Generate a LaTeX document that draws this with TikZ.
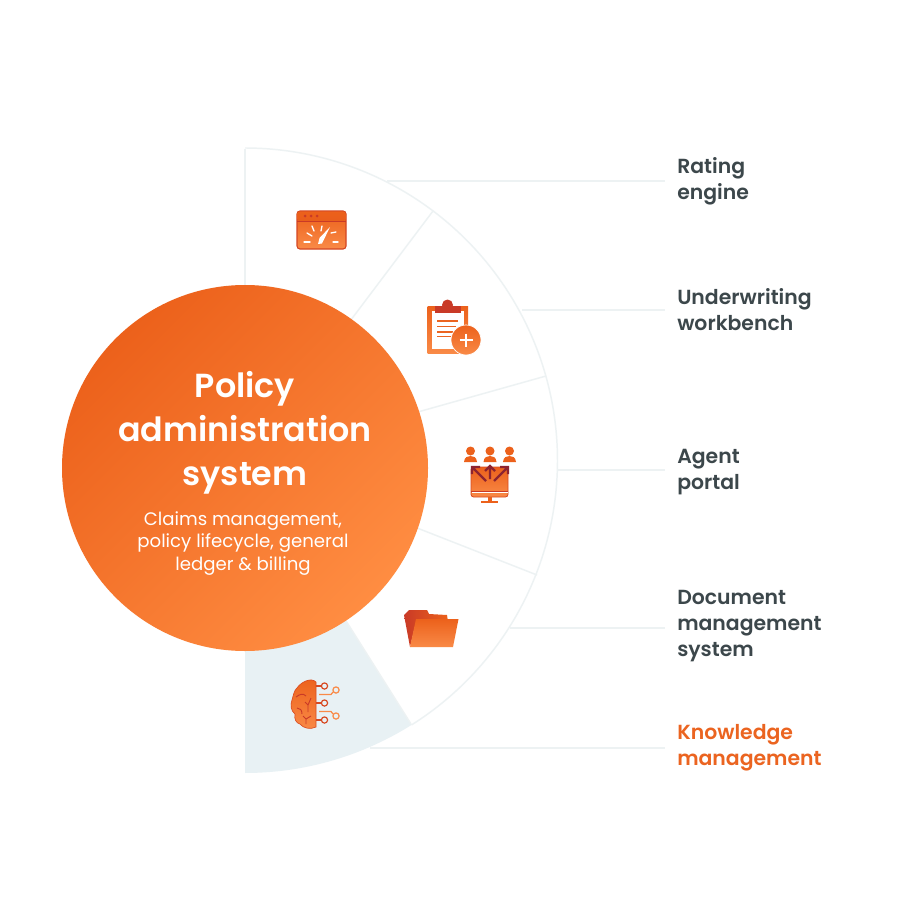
\documentclass[tikz,border=0pt]{standalone}
\usepackage{fontspec}
\setmainfont{Poppins}
\newfontfamily\labfont{Poppins SemiBold}
\newfontfamily\titlefont{Poppins SemiBold}
\usetikzlibrary{calc}
\definecolor{gridc}{HTML}{EDF2F3}
\definecolor{hl}{HTML}{E8F1F4}
\definecolor{ink}{HTML}{3C474B}
\definecolor{orgA}{HTML}{EC611B}
\definecolor{orgB}{HTML}{FF8D42}
\definecolor{orgT}{HTML}{EB6420}
\definecolor{redD}{HTML}{C93A27}
\definecolor{redE}{HTML}{8E2430}
\definecolor{lite}{HTML}{F98A47}
\tikzset{
  rule/.style={draw=gridc,line width=1.1pt},
  lab/.style={anchor=base west,align=left,inner sep=0pt,text=ink,font=\fontsize{15.3}{19.5}\selectfont\labfont},
  labo/.style={lab,text=orgT},
  wh/.style={draw=white,line width=1pt,line cap=round},
  cct/.style={draw=#1,line width=0.9pt,fill=none}
}
\begin{document}
\begin{tikzpicture}[x=0.75pt,y=-0.75pt]
\useasboundingbox (0,0) rectangle (920,920);
\fill[white] (0,0) rectangle (920,920);
\coordinate (o) at (245,460.5);
% highlighted sector
\fill[hl] (o) -- plot[domain=57.8:90,samples=30] ({245+312.5*cos(\x)},{460.5+312.5*sin(\x)}) -- cycle;
% arc
\draw[rule] plot[domain=-90:57.8,samples=150] ({245+312.5*cos(\x)},{460.5+312.5*sin(\x)});
% radial rules
\coordinate (t1) at (433,211); \coordinate (t2) at (546,376);
\coordinate (t3) at (537,575); \coordinate (t4) at (411,724);
\coordinate (top) at (245,149);
\draw[rule] (o) -- (top);
\draw[rule] (o) -- (t1);
\draw[rule] (o) -- (t2);
\draw[rule] (o) -- (t3);
\draw[rule] (o) -- (t4);
% labels
\node[lab] (l1) at (677,199.5) {Rating\\engine};
\node[lab] (l2) at (677,330.5) {Underwriting\\workbench};
\node[lab] (l3) at (677,489.5) {Agent\\portal};
\node[lab] (l4) at (677,656.5) {Document\\management\\system};
\node[labo] (l5) at (677,765.5) {Knowledge\\management};
% connectors
\coordinate (a1) at (387,181); \coordinate (b1) at (665,181);
\coordinate (a2) at (522,310); \coordinate (b2) at (665,310);
\coordinate (a3) at (558,470); \coordinate (b3) at (665,470);
\coordinate (a4) at (510,628); \coordinate (b4) at (665,628);
\coordinate (a5) at (370,748); \coordinate (b5) at (665,748);
\foreach \i in {1,...,5} \draw[rule] (a\i) -- (b\i);
% big circle
\node[circle,minimum size=274.5pt,inner sep=0pt,shading=axis,left color=orgA,right color=orgB,shading angle=45] (hub) at (245,468) {};
\node[anchor=base,align=center,inner sep=0pt,text=white,font=\fontsize{25}{33}\selectfont\titlefont] (title) at (245,485) {Policy\\administration\\system};
\node[anchor=base,align=center,inner sep=0pt,text=white,font=\fontsize{13.6}{16.9}\selectfont] (sub) at (243,570.5) {Claims management,\\policy lifecycle, general\\ledger \& billing};
% icon 1: gauge window
\shade[top color=orgA,bottom color=lite,draw=redD!70!orgA,line width=0.8pt,rounded corners=2.2pt] (297,211) rectangle (346,249);
\shade[top color=orgA,bottom color=orgA!90!redD,rounded corners=1.5pt] (297.5,211.5) rectangle (345.5,221);
\draw[redD,line width=1.2pt] (297,221.5) -- (346,221.5);
\foreach \x in {305,311,317} \fill[redD] (\x,216) circle (1.5);
\fill[white] (318,244) -- (322,243.5) -- (330,227) -- (319.5,238) -- cycle;
\foreach \a/\b/\c/\d in {304/242/310/242, 307/233/312/236, 312/226/314/231, 322/226/321/231, 331/233/336/232, 333/242/338/242}
  \draw[wh] (\a,\b) -- (\c,\d);
% icon 2: clipboard
\shade[top color=orgA,bottom color=lite] (427.5,306) rectangle (468,353.5);
\fill[white] (432,311) rectangle (463.5,349);
\fill[redD] (435,306) rectangle (460.5,312.5);
\fill[redD] (447.5,305) circle (5.5);
\foreach \y/\e in {321/458,326.5/456,332/453,336.5/452} \draw[orgT,line width=1.4pt] (437,\y) -- (\e,\y);
\shade[top color=orgA,bottom color=lite,draw=white,line width=0.5pt] (466,340) circle (15);
\draw[white,line width=1.3pt] (466,333.5) -- (466,346.5) (459.5,340) -- (472.5,340);
% icon 3: people & monitor
\foreach \x in {470.5,490,509.5}{
  \fill[orgA] (\x,451) circle (4.5);
  \fill[orgA] (\x-6.5,462) .. controls (\x-6,457) and (\x-3,456) .. (\x,456) .. controls (\x+3,456) and (\x+6,457) .. (\x+6.5,462) -- cycle;
}
\shade[top color=orgA,bottom color=lite,draw=redD!60!orgA,line width=0.6pt,rounded corners=2pt] (471,467) rectangle (508,497);
\draw[redD,line width=0.7pt] (471,491.5) -- (508,491.5);
\fill[white] (471.5,492) rectangle (507.5,493);
\fill[orgA] (488,497) rectangle (492,501);
\fill[orgA] (481,500.5) rectangle (498,502.5);
\draw[redE,line width=1.7pt] (486,481) -- (472,467) (472,474) -- (472,467) -- (480,467);
\draw[redE,line width=1.7pt] (494,481) -- (508,467) (508,474) -- (508,467) -- (500,467);
\draw[redE,line width=1.7pt] (490,479) -- (490,466) (485,471) -- (490,466) -- (495,471);
% icon 4: folder
\shade[left color=redD,right color=orgA] (404,615) -- (409,610) -- (427,610) -- (429,614) -- (447,615) -- (448,622) -- (416,622) -- (410,647) -- cycle;
\shade[top color=orgA,bottom color=lite] (416,619) -- (458.5,619) -- (453,647) -- (410,647) -- cycle;
% icon 5: brain
\shade[top color=orgA,bottom color=lite,draw=redD!50!orgA,line width=0.5pt] (316,682) -- (316,727)
  .. controls (310,730) and (303,728) .. (300,724)
  .. controls (296,723) and (294,719) .. (295,714)
  .. controls (291,711) and (290,705) .. (292,700)
  .. controls (293,697) and (294,690) .. (297,688)
  .. controls (301,682) and (311,677) .. (316,682) -- cycle;
\draw[redD,line width=0.7pt] (296,697) .. controls (300,694) and (303,693) .. (306,696)
  (311,698) -- (308,705) -- (305,702) (308,705) -- (308,712)
  (297,708) .. controls (300,708) and (302,710) .. (302,714)
  (303,716) -- (306,719) -- (311,716) (306,719) -- (306,724);
\draw[cct=redD!60!orgA] (316,686) -- (321,686) (316,703) -- (321,703) (316,720) -- (321,720);
\draw[cct=lite] (319,694.5) -- (331,694.5) -- (333,692) (319,711.5) -- (331,711.5) -- (333,714);
\draw[cct=redD!60!orgA] (324.5,686) circle (3.1) (324.5,703) circle (3.1) (324.5,720) circle (3.1);
\draw[cct=lite] (336,690) circle (3.1) (336,716) circle (3.1);
\end{tikzpicture}
\end{document}
